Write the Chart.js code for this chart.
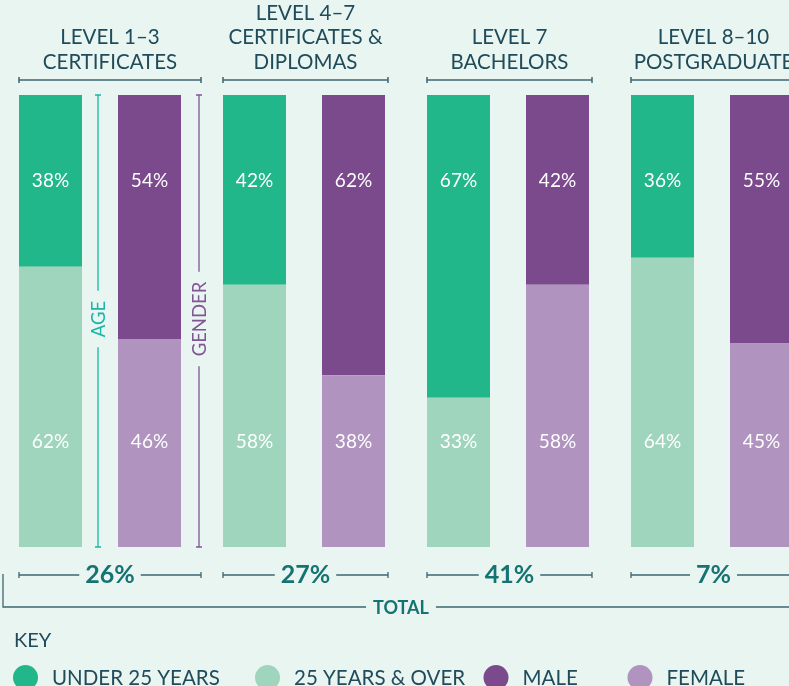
<!DOCTYPE html>
<html><head><meta charset="utf-8">
<script src="https://cdn.jsdelivr.net/npm/chart.js@4/dist/chart.umd.min.js"></script>
<style>
html,body{margin:0;padding:0;background:#e9f5f0;overflow:hidden;width:789px;height:686px;}
#wrap{position:absolute;left:-2px;top:0;width:816px;height:686px;}
</style></head><body>
<div id="wrap"><canvas id="c" width="816" height="686"></canvas></div>
<script>
// ---- data ----
const levels = ['Level 1–3', 'Level 4–7', 'Level 7', 'Level 8–10'];
const levelTitles = [
  ['LEVEL 1–3', 'CERTIFICATES'],
  ['LEVEL 4–7', 'CERTIFICATES &', 'DIPLOMAS'],
  ['LEVEL 7', 'BACHELORS'],
  ['LEVEL 8–10', 'POSTGRADUATE']
];
const under25 = [38, 42, 67, 36];
const over25 = [62, 58, 33, 64];
const male = [54, 62, 42, 55];
const female = [46, 38, 58, 45];
const totals = [26, 27, 41, 7];
const seriesNames = ['UNDER 25 YEARS', '25 YEARS & OVER', 'MALE', 'FEMALE'];
const axisNames = ['AGE', 'GENDER'];
const totalLabel = 'TOTAL';
const keyLabel = 'KEY';

// ---- styles ----
const C = {
  under: '#22b78a', over: '#9fd5bd', male: '#7b4a8c', female: '#b094bf',
  title: '#1f4b5a', line: '#3d6572', total: '#157473', age: '#1cb5a7', gender: '#825596'
};
const FONT = 'Lato, "Open Sans", sans-serif';
const OX = 2; // page->canvas offset

const datasets = [
  { label: seriesNames[1], data: over25, backgroundColor: C.over, stack: 'age', pos: 'bottom' },
  { label: seriesNames[0], data: under25, backgroundColor: C.under, stack: 'age', pos: 'top' },
  { label: seriesNames[3], data: female, backgroundColor: C.female, stack: 'gender', pos: 'bottom' },
  { label: seriesNames[2], data: male, backgroundColor: C.male, stack: 'gender', pos: 'top' }
];

function hline(ctx, x1, x2, y, tick) {
  ctx.beginPath();
  ctx.moveTo(x1, y); ctx.lineTo(x2, y);
  if (tick) {
    ctx.moveTo(x1, y - tick); ctx.lineTo(x1, y + tick);
    ctx.moveTo(x2, y - tick); ctx.lineTo(x2, y + tick);
  }
  ctx.stroke();
}

const decor = {
  id: 'decor',
  afterDatasetsDraw(chart) {
    const ctx = chart.ctx;
    const y = chart.scales.y;
    ctx.save();
    // value labels inside bars
    ctx.fillStyle = '#ffffff';
    ctx.font = '19px ' + FONT;
    ctx.textAlign = 'center';
    ctx.textBaseline = 'middle';
    chart.data.datasets.forEach((ds, i) => {
      const meta = chart.getDatasetMeta(i);
      meta.data.forEach((el, j) => {
        const yy = y.getPixelForValue(ds.pos === 'top' ? 81 : 23.2);
        ctx.fillText(ds.data[j] + '%', el.x, yy);
      });
    });

    const ageMeta = chart.getDatasetMeta(0);
    const genMeta = chart.getDatasetMeta(2);
    const yTop = y.getPixelForValue(100), yBot = y.getPixelForValue(0);

    levelTitles.forEach((lines, j) => {
      const a = ageMeta.data[j], g = genMeta.data[j];
      const left = a.x - a.width / 2;
      const right = g.x + g.width / 2 + (j === 0 ? 20 : 3);
      const cx = (left + right) / 2;
      // titles
      ctx.fillStyle = C.title;
      ctx.font = '20.5px ' + FONT;
      ctx.textAlign = 'center';
      ctx.textBaseline = 'middle';
      lines.forEach((t, k) => {
        ctx.fillText(t, cx, 62 - (lines.length - 1 - k) * 24.5);
      });
      ctx.strokeStyle = C.line;
      ctx.lineWidth = 1.5;
      hline(ctx, left, right, 80, 3);
      // totals
      ctx.font = 'bold 25px ' + FONT;
      ctx.fillStyle = C.total;
      const txt = totals[j] + '%';
      const w = ctx.measureText(txt).width;
      ctx.fillText(txt, cx, 575);
      ctx.lineWidth = 1.3;
      hline(ctx, left, cx - w / 2 - 6, 575, 0);
      hline(ctx, cx + w / 2 + 6, right, 575, 0);
      ctx.beginPath();
      ctx.moveTo(left, 572); ctx.lineTo(left, 578);
      ctx.moveTo(right, 572); ctx.lineTo(right, 578);
      ctx.stroke();
    });

    // AGE / GENDER vertical annotations for first group
    const ann = [
      { x: ageMeta.data[0].x + ageMeta.data[0].width / 2 + 16, color: C.age, text: axisNames[0] },
      { x: genMeta.data[0].x + genMeta.data[0].width / 2 + 18, color: C.gender, text: axisNames[1] }
    ];
    const midY = (yTop + yBot) / 2 - 2;
    ann.forEach(an => {
      ctx.font = '18.5px ' + FONT;
      const w = ctx.measureText(an.text).width;
      ctx.strokeStyle = an.color;
      ctx.lineWidth = 1.3;
      ctx.beginPath();
      ctx.moveTo(an.x, yTop); ctx.lineTo(an.x, midY - w / 2 - 10);
      ctx.moveTo(an.x, midY + w / 2 + 10); ctx.lineTo(an.x, yBot);
      ctx.moveTo(an.x - 3, yTop); ctx.lineTo(an.x + 3, yTop);
      ctx.moveTo(an.x - 3, yBot); ctx.lineTo(an.x + 3, yBot);
      ctx.stroke();
      ctx.save();
      ctx.translate(an.x, midY);
      ctx.rotate(-Math.PI / 2);
      ctx.fillStyle = an.color;
      ctx.textAlign = 'center';
      ctx.textBaseline = 'middle';
      ctx.fillText(an.text, 0, 1);
      ctx.restore();
    });

    // TOTAL bracket
    ctx.font = 'bold 18px ' + FONT;
    const tw = ctx.measureText(totalLabel).width;
    const tcx = 401 + OX;
    ctx.strokeStyle = C.line;
    ctx.lineWidth = 1.3;
    ctx.beginPath();
    ctx.moveTo(3 + OX, 574); ctx.lineTo(3 + OX, 607); ctx.lineTo(tcx - tw / 2 - 7, 607);
    ctx.moveTo(tcx + tw / 2 + 7, 607); ctx.lineTo(chart.width, 607);
    ctx.stroke();
    ctx.fillStyle = C.total;
    ctx.textAlign = 'center';
    ctx.textBaseline = 'middle';
    ctx.fillText(totalLabel, tcx, 608);

    // KEY + legend
    ctx.fillStyle = C.title;
    ctx.textAlign = 'left';
    ctx.font = '20px ' + FONT;
    ctx.fillText(keyLabel, 14 + OX, 641);
    const keyColors = [C.under, C.over, C.male, C.female];
    const keyX = [25.5, 267.5, 496, 640];
    ctx.font = '20.5px ' + FONT;
    seriesNames.forEach((n, i) => {
      ctx.fillStyle = keyColors[i];
      ctx.beginPath();
      ctx.arc(keyX[i] + OX, 677.5, 12.5, 0, Math.PI * 2);
      ctx.fill();
      ctx.fillStyle = C.title;
      ctx.fillText(n, keyX[i] + 26.5 + OX, 678);
    });
    ctx.restore();
  }
};

new Chart(document.getElementById('c'), {
  type: 'bar',
  data: { labels: levels, datasets },
  options: {
    responsive: false,
    animation: false,
    devicePixelRatio: 1,
    layout: { padding: { top: 95, bottom: 139, left: 0, right: 0 } },
    datasets: { bar: { categoryPercentage: 0.9706, barPercentage: 0.6364, borderWidth: 0 } },
    scales: {
      x: { stacked: true, display: false },
      y: { stacked: true, display: false, min: 0, max: 100 }
    },
    plugins: { legend: { display: false }, tooltip: { enabled: false } }
  },
  plugins: [decor]
});
</script>
</body></html>
